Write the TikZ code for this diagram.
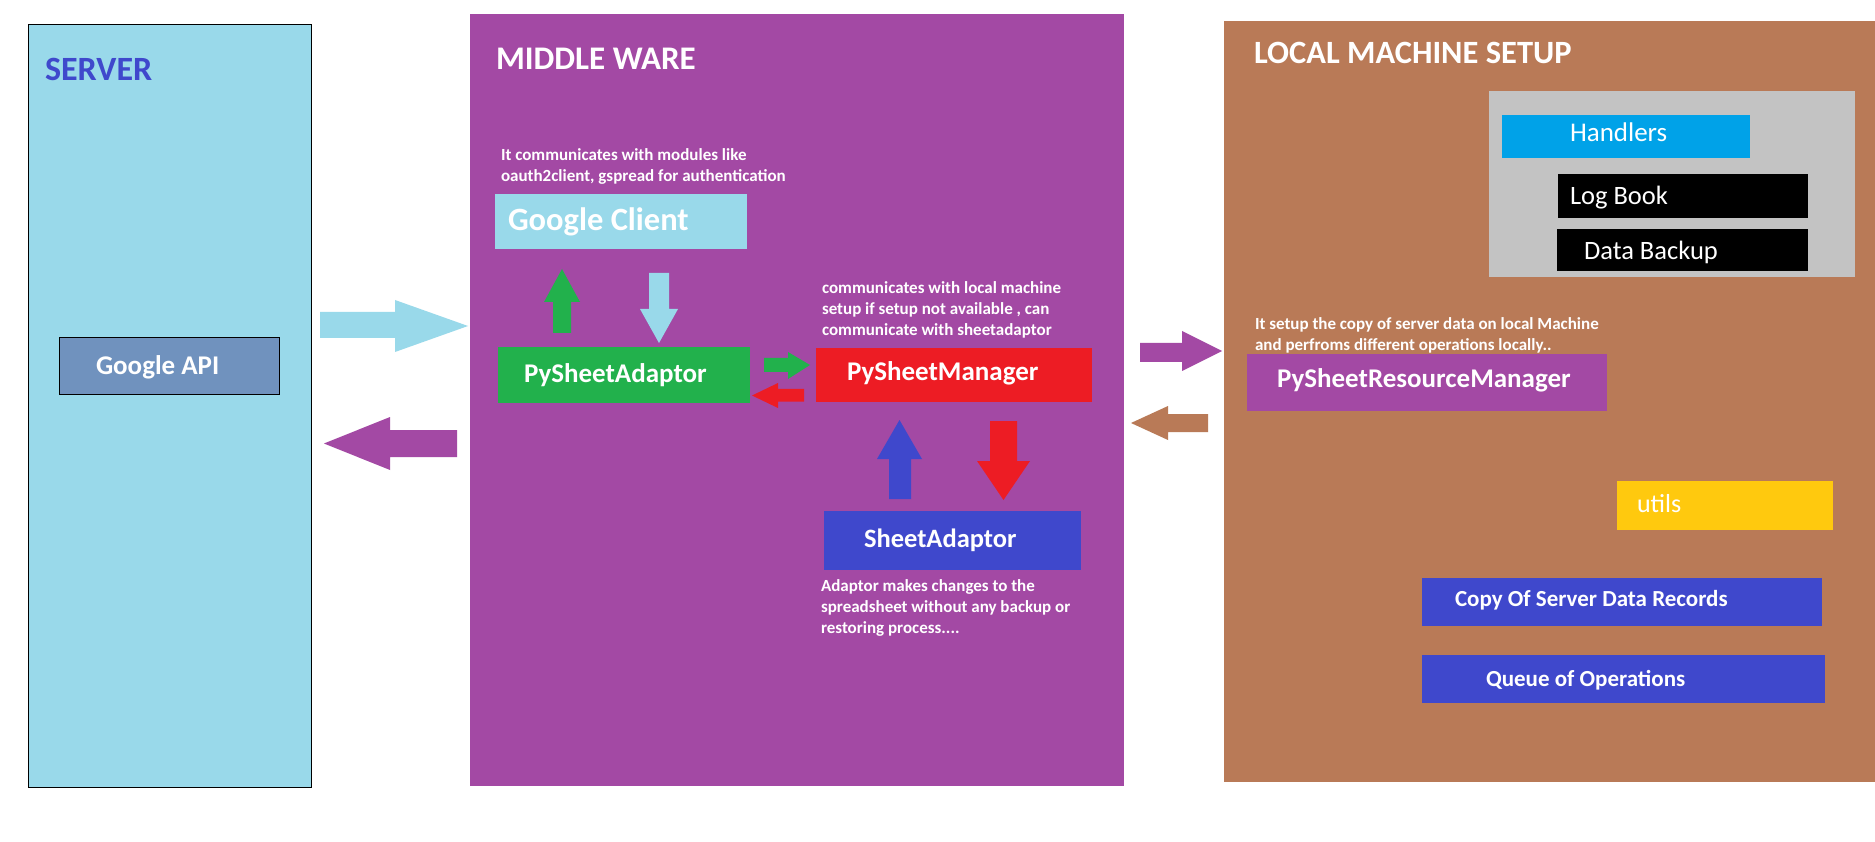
\documentclass[tikz,border=0pt]{standalone}
\usepackage{fontspec}
\setmainfont{Carlito}
\definecolor{srvblue}{HTML}{99D9EA}
\definecolor{gapi}{HTML}{7092BE}
\definecolor{mwpurple}{HTML}{A349A4}
\definecolor{pgreen}{HTML}{22B14C}
\definecolor{pred}{HTML}{ED1C24}
\definecolor{pblue}{HTML}{3F48CC}
\definecolor{pbrown}{HTML}{B97A57}
\definecolor{pgray}{HTML}{C3C3C3}
\definecolor{hblue}{HTML}{00A2E8}
\definecolor{pyellow}{HTML}{FFC90E}
\newcommand\fsz[1]{\fontsize{#1}{#1}\selectfont}
\begin{document}
\begin{tikzpicture}[x=1pt,y=-1pt,
  box/.style={inner sep=0pt,outer sep=0pt,anchor=north west},
  lbl/.style={inner sep=0pt,outer sep=0pt,anchor=base west,text=white},
  note/.style={lbl,font=\fontsize{17}{21}\selectfont\bfseries,align=left},
]
\useasboundingbox (0,0) rectangle (1875,842);
\fill[white] (0,0) rectangle (1875,842);

% ---------------- SERVER ----------------
\node[box,fill=srvblue,draw=black,line width=1pt,minimum width=283pt,minimum height=762pt] (server) at (28,25) {};
\node[lbl,text=pblue,font=\fsz{34}\bfseries] (servert) at (45,80.5) {SERVER};
\node[box,fill=gapi,draw=black,line width=1pt,minimum width=220pt,minimum height=56pt] (gapi) at (59,338) {};
\node[lbl,font=\fsz{27}\bfseries] (gapit) at (96,375) {Google API};

% ---------------- MIDDLE WARE ----------------
\node[box,fill=mwpurple,minimum width=654pt,minimum height=772pt] (mw) at (470,14) {};
\node[lbl,font=\fsz{33}\bfseries] (mwt) at (496,70) {MIDDLE WARE};
\node[note] (gcnote) at (501,182) {It communicates with modules like\\oauth2client, gspread for authentication};
\node[box,fill=srvblue,minimum width=252pt,minimum height=55pt] (gc) at (495,194) {};
\node[lbl,font=\fsz{32.5}\bfseries] (gct) at (508,231) {Google Client};
\node[box,fill=pgreen,minimum width=252pt,minimum height=56pt] (psa) at (498,347) {};
\node[lbl,font=\fsz{27}\bfseries] (psat) at (524,382.5) {PySheetAdaptor};
\node[box,fill=pred,minimum width=276pt,minimum height=54pt] (psm) at (816,348) {};
\node[lbl,font=\fsz{27}\bfseries] (psmt) at (847,381) {PySheetManager};
\node[note] (psmnote) at (822,336) {communicates with local machine\\setup if setup not available , can\\communicate with sheetadaptor};
\node[box,fill=pblue,minimum width=257pt,minimum height=59pt] (sa) at (824,511) {};
\node[lbl,font=\fsz{26.5}\bfseries] (sat) at (864,547.5) {SheetAdaptor};
\node[note] (sanote) at (821,633) {Adaptor makes changes to the\\spreadsheet without any backup or\\restoring process....};

% ---------------- LOCAL MACHINE ----------------
\node[box,fill=pbrown,minimum width=651pt,minimum height=761pt] (lm) at (1224,21) {};
\node[lbl,font=\fsz{32.5}\bfseries] (lmt) at (1254,64) {LOCAL MACHINE SETUP};
\node[box,fill=pgray,minimum width=366pt,minimum height=186pt] (grp) at (1489,91) {};
\node[box,fill=hblue,minimum width=248pt,minimum height=43pt] (hd) at (1502,115) {};
\node[lbl,font=\fsz{27}] (hdt) at (1570,141.7) {Handlers};
\node[box,fill=black,minimum width=250pt,minimum height=44pt] (lb) at (1558,174) {};
\node[lbl,font=\fsz{26.5}] (lbt) at (1570,205) {Log Book};
\node[box,fill=black,minimum width=251pt,minimum height=42pt] (db) at (1557,229) {};
\node[lbl,font=\fsz{26.5}] (dbt) at (1584,260) {Data Backup};
\node[lbl,font=\fontsize{17}{21}\selectfont\bfseries,align=left] (prmnote) at (1255,351) {It setup the copy of server data on local Machine\\and perfroms different operations locally..};
\node[box,fill=mwpurple,minimum width=360pt,minimum height=57pt] (prm) at (1247,354) {};
\node[lbl,font=\fsz{27}\bfseries] (prmt) at (1277,388) {PySheetResourceManager};
\node[box,fill=pyellow,minimum width=216pt,minimum height=49pt] (ut) at (1617,481) {};
\node[lbl,font=\fsz{26}] (utt) at (1637,512) {utils};
\node[box,fill=pblue,minimum width=400pt,minimum height=48pt] (cp) at (1422,578) {};
\node[lbl,font=\fsz{23}\bfseries] (cpt) at (1455,606.5) {Copy Of Server Data Records};
\node[box,fill=pblue,minimum width=403pt,minimum height=48pt] (qo) at (1422,655) {};
\node[lbl,font=\fsz{23}\bfseries] (qot) at (1486,686.5) {Queue of Operations};

% ---------------- block arrows ----------------
% server -> middleware
\fill[srvblue] (320,312) -- (395,312) -- (395,300) -- (468,326) -- (395,352) -- (395,338) -- (320,338) -- cycle;
% middleware -> server
\fill[mwpurple] (457,430) -- (390,430) -- (390,417) -- (324,443.5) -- (390,470) -- (390,457) -- (457,457) -- cycle;
% PySheetAdaptor -> Google Client
\fill[pgreen] (553,333) -- (553,302) -- (544,302) -- (562,269) -- (580,302) -- (571,302) -- (571,333) -- cycle;
% Google Client -> PySheetAdaptor
\fill[srvblue] (649,273) -- (649,309) -- (640,309) -- (659,343) -- (678,309) -- (669,309) -- (669,273) -- cycle;
% PySheetAdaptor -> PySheetManager
\fill[pgreen] (764,358) -- (788,358) -- (788,352) -- (810,365) -- (788,379) -- (788,372) -- (764,372) -- cycle;
% PySheetManager -> PySheetAdaptor
\fill[pred] (804,389) -- (778,389) -- (778,383) -- (752,395.5) -- (778,408) -- (778,401.5) -- (804,401.5) -- cycle;
% SheetAdaptor -> PySheetManager
\fill[pblue] (889,499) -- (889,459) -- (877,459) -- (899.5,420) -- (922,459) -- (911,459) -- (911,499) -- cycle;
% PySheetManager -> SheetAdaptor
\fill[pred] (990,421) -- (990,461) -- (977,461) -- (1003.5,500) -- (1030,461) -- (1017,461) -- (1017,421) -- cycle;
% middleware -> local
\fill[mwpurple] (1140,343) -- (1182,343) -- (1182,331) -- (1222,351) -- (1182,371) -- (1182,362) -- (1140,362) -- cycle;
% local -> middleware
\fill[pbrown] (1208,414) -- (1168,414) -- (1168,406) -- (1131,423) -- (1168,440) -- (1168,432) -- (1208,432) -- cycle;
\end{tikzpicture}
\end{document}
